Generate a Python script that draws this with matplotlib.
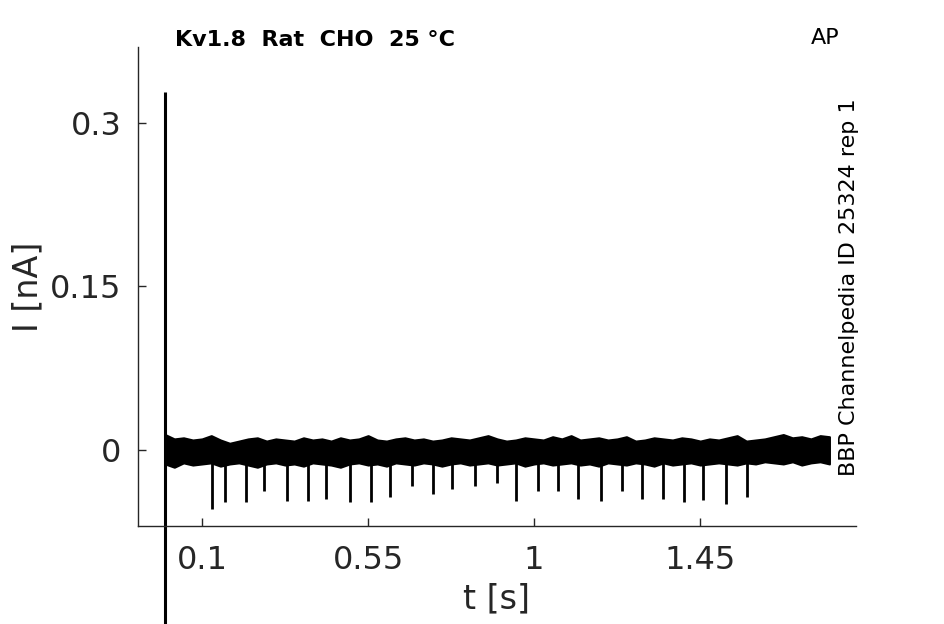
import numpy as np
import matplotlib
matplotlib.use("Agg")
import matplotlib.pyplot as plt

# envelope of the noisy trace (t in s, I in nA)
env_t = [0.0, 0.025, 0.05, 0.075, 0.10, 0.125, 0.15, 0.175, 0.20, 0.225, 0.25, 0.275,
         0.30, 0.325, 0.35, 0.375, 0.40, 0.425, 0.45, 0.475, 0.50, 0.525, 0.55, 0.575,
         0.60, 0.625, 0.65, 0.675, 0.70, 0.725, 0.75, 0.775, 0.80, 0.825, 0.85, 0.875,
         0.90, 0.925, 0.95, 0.975, 1.00, 1.025, 1.05, 1.075, 1.10, 1.125, 1.15, 1.175,
         1.20, 1.225, 1.25, 1.275, 1.30, 1.325, 1.35, 1.375, 1.40, 1.425, 1.45, 1.475,
         1.50, 1.525, 1.55, 1.575, 1.60, 1.625, 1.65, 1.675, 1.70, 1.725, 1.75, 1.775, 1.80]
env_hi = [0.014, 0.010, 0.011, 0.009, 0.010, 0.013, 0.009, 0.006, 0.008, 0.010, 0.011, 0.008,
          0.010, 0.009, 0.008, 0.011, 0.009, 0.010, 0.008, 0.011, 0.009, 0.010, 0.013, 0.009,
          0.008, 0.010, 0.011, 0.009, 0.010, 0.008, 0.009, 0.011, 0.010, 0.009, 0.011, 0.013,
          0.010, 0.008, 0.009, 0.011, 0.010, 0.009, 0.012, 0.010, 0.013, 0.009, 0.010, 0.011,
          0.009, 0.010, 0.012, 0.008, 0.009, 0.011, 0.010, 0.009, 0.011, 0.010, 0.008, 0.010,
          0.009, 0.011, 0.013, 0.008, 0.009, 0.010, 0.012, 0.014, 0.011, 0.012, 0.010, 0.013, 0.012]
env_lo = [-0.013, -0.016, -0.012, -0.014, -0.013, -0.012, -0.015, -0.013, -0.012, -0.014, -0.016, -0.013,
          -0.012, -0.014, -0.013, -0.015, -0.012, -0.013, -0.014, -0.016, -0.013, -0.012, -0.014, -0.013,
          -0.015, -0.012, -0.013, -0.014, -0.012, -0.013, -0.015, -0.013, -0.012, -0.014, -0.013, -0.012,
          -0.014, -0.013, -0.012, -0.015, -0.013, -0.012, -0.014, -0.013, -0.012, -0.014, -0.013, -0.015,
          -0.012, -0.013, -0.014, -0.012, -0.013, -0.015, -0.012, -0.014, -0.013, -0.012, -0.014, -0.013,
          -0.012, -0.013, -0.014, -0.012, -0.013, -0.011, -0.012, -0.013, -0.011, -0.014, -0.012, -0.011, -0.013]

# downward spikes: time and minimum current
spike_t = [0.127, 0.163, 0.218, 0.268, 0.330, 0.386, 0.437, 0.500, 0.557, 0.609,
           0.670, 0.726, 0.778, 0.840, 0.898, 0.950, 1.011, 1.065, 1.118, 1.181,
           1.239, 1.291, 1.350, 1.407, 1.458, 1.520, 1.578]
spike_min = [-0.0545, -0.0475, -0.0484, -0.0374, -0.0468, -0.0468, -0.0453, -0.0484, -0.0484, -0.0434,
             -0.0337, -0.0404, -0.0361, -0.0331, -0.0306, -0.0468, -0.0374, -0.0377, -0.0453, -0.0466,
             -0.0377, -0.0453, -0.0453, -0.0480, -0.0459, -0.0499, -0.0434]

# capacitive transient at t=0
transient_t = 0.0
transient_top, transient_bot = 0.329, -0.2

xticks = [0.1, 0.55, 1, 1.45]
yticks = [0, 0.15, 0.3]

fig = plt.figure(figsize=(9.45, 6.24), dpi=100)
ax = fig.add_axes([138 / 945, 1 - 526 / 624, 718 / 945, 479 / 624])

ax.fill_between(env_t, env_lo, env_hi, color="black", lw=1.5, edgecolor="black")
ax.vlines(spike_t, spike_min, -0.01, color="black", lw=2)
ax.plot([transient_t, transient_t], [transient_top, transient_bot], color="black",
        lw=2.2, clip_on=False, solid_capstyle="butt")

ax.set_xlim(-0.0735, 1.872)
ax.set_ylim(-0.07, 0.37)
ax.set_xticks(xticks)
ax.set_xticklabels(["0.1", "0.55", "1", "1.45"])
ax.set_yticks(yticks)
ax.set_yticklabels(["0", "0.15", "0.3"])
ax.tick_params(direction="in", length=6, width=1, colors="#262626", labelsize=23)
ax.tick_params(axis="y", pad=12)
ax.tick_params(axis="x", pad=14)
for s in ["top", "right"]:
    ax.spines[s].set_visible(False)
for s in ["left", "bottom"]:
    ax.spines[s].set_color("#262626")
    ax.spines[s].set_linewidth(1)

ax.set_xlabel("t [s]", fontsize=24, color="#262626", labelpad=4)
ax.set_ylabel("I [nA]", fontsize=24, color="#262626", labelpad=4)

fig.text(175 / 945, 1 - 40 / 624, "Kv1.8  Rat  CHO  25 °C", fontsize=16,
         fontweight="bold", ha="left", va="center")
fig.text(825 / 945, 1 - 38 / 624, "AP", fontsize=16, ha="center", va="center")
fig.text(849 / 945, 1 - 287 / 624, "BBP Channelpedia ID 25324 rep 1", fontsize=16,
         rotation=90, ha="center", va="center")

fig.savefig("out.png", dpi=100)
